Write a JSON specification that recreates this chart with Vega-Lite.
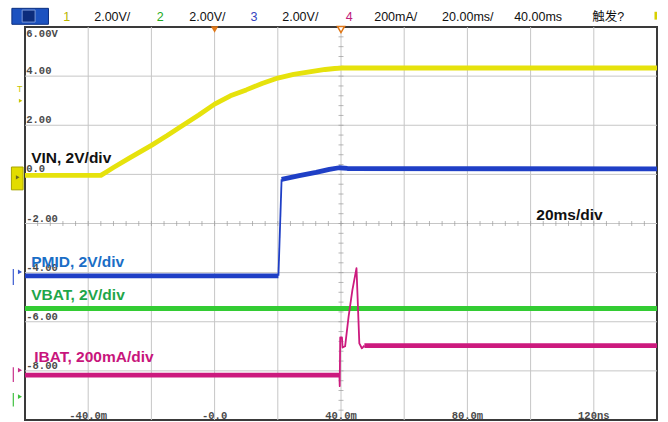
{
 "$schema": "https://vega.github.io/schema/vega-lite/v6.json",
 "width": 632,
 "height": 393,
 "autosize": {"type": "none"},
 "padding": {"left": 25, "top": 27, "right": 11, "bottom": 2},
 "background": "#ffffff",
 "config": {"view": {"stroke": "#3a3a3a", "strokeWidth": 2, "fill": "#ffffff"}},
 "resolve": {"scale": {"color": "independent", "strokeWidth": "independent"}},
 "datasets": {
  "gridx": [{"t": -40}, {"t": -20}, {"t": 0}, {"t": 20}, {"t": 40}, {"t": 60}, {"t": 80}, {"t": 100}, {"t": 120}],
  "gridy": [{"v": -8}, {"v": -6}, {"v": -4}, {"v": -2}, {"v": 0}, {"v": 2}, {"v": 4}],
  "tickh": [{"t": -56}, {"t": -52}, {"t": -48}, {"t": -44}, {"t": -40}, {"t": -36}, {"t": -32}, {"t": -28}, {"t": -24}, {"t": -20}, {"t": -16}, {"t": -12}, {"t": -8}, {"t": -4}, {"t": 0}, {"t": 4}, {"t": 8}, {"t": 12}, {"t": 16}, {"t": 20}, {"t": 24}, {"t": 28}, {"t": 32}, {"t": 36}, {"t": 40}, {"t": 44}, {"t": 48}, {"t": 52}, {"t": 56}, {"t": 60}, {"t": 64}, {"t": 68}, {"t": 72}, {"t": 76}, {"t": 80}, {"t": 84}, {"t": 88}, {"t": 92}, {"t": 96}, {"t": 100}, {"t": 104}, {"t": 108}, {"t": 112}, {"t": 116}, {"t": 120}, {"t": 124}, {"t": 128}, {"t": 132}, {"t": 136}],
  "tickv": [{"v": -9.6}, {"v": -9.2}, {"v": -8.8}, {"v": -8.4}, {"v": -8.0}, {"v": -7.6}, {"v": -7.2}, {"v": -6.8}, {"v": -6.4}, {"v": -6.0}, {"v": -5.6}, {"v": -5.2}, {"v": -4.8}, {"v": -4.4}, {"v": -4.0}, {"v": -3.6}, {"v": -3.2}, {"v": -2.8}, {"v": -2.4}, {"v": -2.0}, {"v": -1.6}, {"v": -1.2}, {"v": -0.8}, {"v": -0.4}, {"v": 0}, {"v": 0.4}, {"v": 0.8}, {"v": 1.2}, {"v": 1.6}, {"v": 2.0}, {"v": 2.4}, {"v": 2.8}, {"v": 3.2}, {"v": 3.6}, {"v": 4.0}, {"v": 4.4}, {"v": 4.8}, {"v": 5.2}, {"v": 5.6}],
  "traces": [
   {"ch": "VBAT", "seg": "VBAT", "kind": "level", "t": -60, "v": -5.46},
   {"ch": "VBAT", "seg": "VBAT", "kind": "level", "t": 140, "v": -5.46},
   {"ch": "VIN", "seg": "VIN", "kind": "level", "t": -60, "v": -0.04},
   {"ch": "VIN", "seg": "VIN", "kind": "level", "t": -36, "v": -0.04},
   {"ch": "VIN", "seg": "VIN", "kind": "level", "t": -34, "v": 0.12},
   {"ch": "VIN", "seg": "VIN", "kind": "level", "t": -32, "v": 0.28},
   {"ch": "VIN", "seg": "VIN", "kind": "level", "t": -27, "v": 0.66},
   {"ch": "VIN", "seg": "VIN", "kind": "level", "t": -20, "v": 1.18},
   {"ch": "VIN", "seg": "VIN", "kind": "level", "t": -15, "v": 1.58},
   {"ch": "VIN", "seg": "VIN", "kind": "level", "t": -11, "v": 1.92},
   {"ch": "VIN", "seg": "VIN", "kind": "level", "t": -5, "v": 2.42},
   {"ch": "VIN", "seg": "VIN", "kind": "level", "t": 0, "v": 2.86},
   {"ch": "VIN", "seg": "VIN", "kind": "level", "t": 5, "v": 3.2},
   {"ch": "VIN", "seg": "VIN", "kind": "level", "t": 10, "v": 3.44},
   {"ch": "VIN", "seg": "VIN", "kind": "level", "t": 15, "v": 3.7},
   {"ch": "VIN", "seg": "VIN", "kind": "level", "t": 20, "v": 3.92},
   {"ch": "VIN", "seg": "VIN", "kind": "level", "t": 25, "v": 4.07},
   {"ch": "VIN", "seg": "VIN", "kind": "level", "t": 31, "v": 4.19},
   {"ch": "VIN", "seg": "VIN", "kind": "level", "t": 35, "v": 4.27},
   {"ch": "VIN", "seg": "VIN", "kind": "level", "t": 38, "v": 4.31},
   {"ch": "VIN", "seg": "VIN", "kind": "level", "t": 40, "v": 4.33},
   {"ch": "VIN", "seg": "VIN", "kind": "level", "t": 140, "v": 4.33},
   {"ch": "PMID", "seg": "PMID_a", "kind": "level", "t": -60, "v": -4.13},
   {"ch": "PMID", "seg": "PMID_a", "kind": "level", "t": 20.2, "v": -4.13},
   {"ch": "PMID", "seg": "PMID_b", "kind": "edge", "t": 20.2, "v": -4.13},
   {"ch": "PMID", "seg": "PMID_b", "kind": "edge", "t": 21.2, "v": -0.2},
   {"ch": "PMID", "seg": "PMID_c", "kind": "level", "t": 21.2, "v": -0.2},
   {"ch": "PMID", "seg": "PMID_c", "kind": "level", "t": 26.8, "v": -0.05},
   {"ch": "PMID", "seg": "PMID_c", "kind": "level", "t": 32.1, "v": 0.08},
   {"ch": "PMID", "seg": "PMID_c", "kind": "level", "t": 36.3, "v": 0.2},
   {"ch": "PMID", "seg": "PMID_c", "kind": "level", "t": 39.4, "v": 0.27},
   {"ch": "PMID", "seg": "PMID_c", "kind": "level", "t": 42, "v": 0.24},
   {"ch": "PMID", "seg": "PMID_c", "kind": "level", "t": 140, "v": 0.22},
   {"ch": "IBAT", "seg": "IBAT_a", "kind": "level", "t": -60, "v": -8.17},
   {"ch": "IBAT", "seg": "IBAT_a", "kind": "level", "t": 39.5, "v": -8.17},
   {"ch": "IBAT", "seg": "IBAT_b", "kind": "edge", "t": 39.5, "v": -8.17},
   {"ch": "IBAT", "seg": "IBAT_b", "kind": "edge", "t": 39.6, "v": -8.62},
   {"ch": "IBAT", "seg": "IBAT_b", "kind": "edge", "t": 39.75, "v": -6.64},
   {"ch": "IBAT", "seg": "IBAT_b", "kind": "edge", "t": 40.3, "v": -6.64},
   {"ch": "IBAT", "seg": "IBAT_b", "kind": "edge", "t": 40.5, "v": -7.05},
   {"ch": "IBAT", "seg": "IBAT_b", "kind": "edge", "t": 41.3, "v": -7.0},
   {"ch": "IBAT", "seg": "IBAT_b", "kind": "edge", "t": 42.4, "v": -5.79},
   {"ch": "IBAT", "seg": "IBAT_b", "kind": "edge", "t": 43.6, "v": -4.71},
   {"ch": "IBAT", "seg": "IBAT_b", "kind": "edge", "t": 44.9, "v": -3.82},
   {"ch": "IBAT", "seg": "IBAT_b", "kind": "edge", "t": 45.8, "v": -6.88},
   {"ch": "IBAT", "seg": "IBAT_b", "kind": "edge", "t": 46.6, "v": -7.08},
   {"ch": "IBAT", "seg": "IBAT_b", "kind": "edge", "t": 47.4, "v": -6.97},
   {"ch": "IBAT", "seg": "IBAT_c", "kind": "level", "t": 47.4, "v": -6.97},
   {"ch": "IBAT", "seg": "IBAT_c", "kind": "level", "t": 140, "v": -6.97}
  ],
  "labels": [
   {"t": -58.05, "v": 0.46, "text": "VIN, 2V/div", "ch": "VIN"},
   {"t": -58.05, "v": -3.77, "text": "PMID, 2V/div", "ch": "PMID"},
   {"t": -58.05, "v": -5.11, "text": "VBAT, 2V/div", "ch": "VBAT"},
   {"t": -57.1, "v": -7.64, "text": "IBAT, 200mA/div", "ch": "IBAT"},
   {"t": 101.8, "v": -1.86, "text": "20ms/div", "ch": "time"}
  ],
  "ylabels": [
   {"t": -59.6, "v": 5.5, "text": "6.00V"},
   {"t": -59.6, "v": 4, "text": "4.00"},
   {"t": -59.6, "v": 2, "text": "2.00"},
   {"t": -59.6, "v": 0, "text": "0.0"},
   {"t": -59.6, "v": -2, "text": "-2.00"},
   {"t": -59.6, "v": -4, "text": "-4.00"},
   {"t": -59.6, "v": -6, "text": "-6.00"},
   {"t": -59.6, "v": -8, "text": "-8.00"}
  ],
  "xlabels": [
   {"t": -40, "text": "-40.0m"},
   {"t": 0, "text": "-0.0"},
   {"t": 40, "text": "40.0m"},
   {"t": 80, "text": "80.0m"},
   {"t": 120, "text": "120ns"}
  ],
  "header": [
   {"t": -47.9, "text": "1", "ch": "VIN"},
   {"t": -38.1, "text": "2.00V/", "ch": "info"},
   {"t": -18.3, "text": "2", "ch": "VBAT"},
   {"t": -8.0, "text": "2.00V/", "ch": "info"},
   {"t": 11.4, "text": "3", "ch": "PMID"},
   {"t": 21.4, "text": "2.00V/", "ch": "info"},
   {"t": 41.5, "text": "4", "ch": "IBAT"},
   {"t": 50.5, "text": "200mA/", "ch": "info"},
   {"t": 72.0, "text": "20.00ms/", "ch": "info"},
   {"t": 94.8, "text": "40.00ms", "ch": "info"},
   {"t": 119.5, "text": "触发?", "ch": "info"}
  ],
  "button": [
   {"part": "outer", "t": -64.15, "t2": -52.57, "v": 6.76, "v2": 6.11},
   {"part": "inner", "t": -60.9, "t2": -56.8, "v": 6.69, "v2": 6.2}
  ],
  "gmarks": [
   {"ch": "PMID", "v": -3.97, "vtop": -3.85, "vbot": -4.5},
   {"ch": "IBAT", "v": -7.97, "vtop": -7.85, "vbot": -8.45},
   {"ch": "VBAT", "v": -9.05, "vtop": -8.9, "vbot": -9.45}
  ]
 },
 "layer": [
  {
   "data": {"name": "gridx"},
   "mark": {"type": "rule", "color": "#c6c6c6", "strokeWidth": 1},
   "encoding": {"x": {"field": "t", "type": "quantitative", "scale": {"domain": [-60, 140], "nice": false, "zero": false}, "axis": null}}
  },
  {
   "data": {"name": "gridy"},
   "mark": {"type": "rule", "color": "#c6c6c6", "strokeWidth": 1},
   "encoding": {"y": {"field": "v", "type": "quantitative", "scale": {"domain": [-10, 6], "nice": false, "zero": false}, "axis": null}}
  },
  {
   "data": {"name": "tickh"},
   "mark": {"type": "tick", "orient": "vertical", "size": 5, "thickness": 1, "color": "#9a9a9a"},
   "encoding": {
    "x": {"field": "t", "type": "quantitative", "scale": {"domain": [-60, 140], "nice": false, "zero": false}, "axis": null},
    "y": {"datum": -2, "type": "quantitative", "scale": {"domain": [-10, 6], "nice": false, "zero": false}, "axis": null}
   }
  },
  {
   "data": {"name": "tickv"},
   "mark": {"type": "tick", "orient": "horizontal", "size": 5, "thickness": 1, "color": "#9a9a9a"},
   "encoding": {
    "x": {"datum": 40, "type": "quantitative", "scale": {"domain": [-60, 140], "nice": false, "zero": false}, "axis": null},
    "y": {"field": "v", "type": "quantitative", "scale": {"domain": [-10, 6], "nice": false, "zero": false}, "axis": null}
   }
  },
  {
   "data": {"name": "ylabels"},
   "mark": {"type": "text", "align": "left", "baseline": "alphabetic", "dy": -2, "font": "Liberation Mono", "fontSize": 10.5, "fontWeight": "bold", "color": "#4a4a4a"},
   "encoding": {
    "x": {"field": "t", "type": "quantitative", "scale": {"domain": [-60, 140], "nice": false, "zero": false}, "axis": null},
    "y": {"field": "v", "type": "quantitative", "scale": {"domain": [-10, 6], "nice": false, "zero": false}, "axis": null},
    "text": {"field": "text"}
   }
  },
  {
   "data": {"name": "xlabels"},
   "mark": {"type": "text", "align": "center", "baseline": "alphabetic", "dy": -1, "font": "Liberation Mono", "fontSize": 10.5, "fontWeight": "bold", "color": "#4a4a4a"},
   "encoding": {
    "x": {"field": "t", "type": "quantitative", "scale": {"domain": [-60, 140], "nice": false, "zero": false}, "axis": null},
    "y": {"datum": -10, "type": "quantitative", "scale": {"domain": [-10, 6], "nice": false, "zero": false}, "axis": null},
    "text": {"field": "text"}
   }
  },
  {
   "data": {"name": "traces"},
   "mark": {"type": "line", "strokeCap": "butt", "strokeJoin": "round", "clip": true},
   "encoding": {
    "x": {"field": "t", "type": "quantitative", "scale": {"domain": [-60, 140], "nice": false, "zero": false}, "axis": null},
    "y": {"field": "v", "type": "quantitative", "scale": {"domain": [-10, 6], "nice": false, "zero": false}, "axis": null},
    "detail": {"field": "seg"},
    "color": {"field": "ch", "type": "nominal", "scale": {"domain": ["VIN", "PMID", "VBAT", "IBAT"], "range": ["#e6e20c", "#1f3fc6", "#33cc33", "#cc1a7e"]}, "legend": null},
    "strokeWidth": {"field": "kind", "type": "nominal", "scale": {"domain": ["level", "edge"], "range": [4.8, 1.8]}, "legend": null}
   }
  },
  {
   "data": {"name": "labels"},
   "mark": {"type": "text", "align": "left", "baseline": "alphabetic", "font": "Liberation Sans", "fontSize": 15.5, "fontWeight": "bold"},
   "encoding": {
    "x": {"field": "t", "type": "quantitative", "scale": {"domain": [-60, 140], "nice": false, "zero": false}, "axis": null},
    "y": {"field": "v", "type": "quantitative", "scale": {"domain": [-10, 6], "nice": false, "zero": false}, "axis": null},
    "text": {"field": "text"},
    "color": {"field": "ch", "type": "nominal", "scale": {"domain": ["VIN", "PMID", "VBAT", "IBAT", "time"], "range": ["#111111", "#1a6ec6", "#1fa64a", "#c8157c", "#111111"]}, "legend": null}
   }
  },
  {
   "data": {"name": "header"},
   "mark": {"type": "text", "align": "left", "baseline": "alphabetic", "font": "Liberation Sans, Noto Sans CJK SC", "fontSize": 12.5},
   "encoding": {
    "x": {"field": "t", "type": "quantitative", "scale": {"domain": [-60, 140], "nice": false, "zero": false}, "axis": null},
    "y": {"datum": 6.25, "type": "quantitative", "scale": {"domain": [-10, 6], "nice": false, "zero": false}, "axis": null},
    "text": {"field": "text"},
    "color": {"field": "ch", "type": "nominal", "scale": {"domain": ["VIN", "VBAT", "PMID", "IBAT", "info"], "range": ["#b8b400", "#22aa22", "#3444c0", "#c0207a", "#111111"]}, "legend": null}
   }
  },
  {
   "data": {"name": "button"},
   "mark": {"type": "rect", "strokeWidth": 1},
   "encoding": {
    "x": {"field": "t", "type": "quantitative", "scale": {"domain": [-60, 140], "nice": false, "zero": false}, "axis": null},
    "x2": {"field": "t2"},
    "y": {"field": "v", "type": "quantitative", "scale": {"domain": [-10, 6], "nice": false, "zero": false}, "axis": null},
    "y2": {"field": "v2"},
    "color": {"field": "part", "type": "nominal", "scale": {"domain": ["outer", "inner"], "range": ["#1c52c0", "#0c2c7c"]}, "legend": null},
    "stroke": {"field": "part", "type": "nominal", "scale": {"domain": ["outer", "inner"], "range": ["#0b2f80", "#7a98d8"]}, "legend": null}
   }
  },
  {
   "data": {"values": [{"t": 0, "v": 5.9}]},
   "mark": {"type": "point", "shape": "triangle-down", "filled": true, "size": 55, "color": "#e07818", "opacity": 1},
   "encoding": {
    "x": {"field": "t", "type": "quantitative", "scale": {"domain": [-60, 140], "nice": false, "zero": false}, "axis": null},
    "y": {"field": "v", "type": "quantitative", "scale": {"domain": [-10, 6], "nice": false, "zero": false}, "axis": null}
   }
  },
  {
   "data": {"values": [{"t": 40, "v": 5.9}]},
   "mark": {"type": "point", "shape": "triangle-down", "filled": false, "size": 50, "stroke": "#e07818", "fill": "#ffffff", "strokeWidth": 1.5, "opacity": 1},
   "encoding": {
    "x": {"field": "t", "type": "quantitative", "scale": {"domain": [-60, 140], "nice": false, "zero": false}, "axis": null},
    "y": {"field": "v", "type": "quantitative", "scale": {"domain": [-10, 6], "nice": false, "zero": false}, "axis": null}
   }
  },
  {
   "data": {"values": [{"t": 139.6, "v": 6.62, "v2": 6.3}]},
   "mark": {"type": "rule", "color": "#d8d000", "strokeWidth": 2.5},
   "encoding": {
    "x": {"field": "t", "type": "quantitative", "scale": {"domain": [-60, 140], "nice": false, "zero": false}, "axis": null},
    "y": {"field": "v", "type": "quantitative", "scale": {"domain": [-10, 6], "nice": false, "zero": false}, "axis": null},
    "y2": {"field": "v2"}
   }
  },
  {
   "data": {"values": [{"t": -64.3, "t2": -60.6, "v": 0.3, "v2": -0.63}]},
   "mark": {"type": "rect", "color": "#e2dc00", "stroke": "#a8a400", "strokeWidth": 1},
   "encoding": {
    "x": {"field": "t", "type": "quantitative", "scale": {"domain": [-60, 140], "nice": false, "zero": false}, "axis": null},
    "x2": {"field": "t2"},
    "y": {"field": "v", "type": "quantitative", "scale": {"domain": [-10, 6], "nice": false, "zero": false}, "axis": null},
    "y2": {"field": "v2"}
   }
  },
  {
   "data": {"values": [{"t": -62.3, "v": -0.12}]},
   "mark": {"type": "point", "shape": "triangle-right", "filled": true, "size": 18, "color": "#6a6a20", "opacity": 1},
   "encoding": {
    "x": {"field": "t", "type": "quantitative", "scale": {"domain": [-60, 140], "nice": false, "zero": false}, "axis": null},
    "y": {"field": "v", "type": "quantitative", "scale": {"domain": [-10, 6], "nice": false, "zero": false}, "axis": null}
   }
  },
  {
   "data": {"values": [{"t": -61.7, "v": 3.35, "text": "T"}]},
   "mark": {"type": "text", "align": "center", "baseline": "alphabetic", "font": "Liberation Sans", "fontSize": 9, "color": "#c8c400"},
   "encoding": {
    "x": {"field": "t", "type": "quantitative", "scale": {"domain": [-60, 140], "nice": false, "zero": false}, "axis": null},
    "y": {"field": "v", "type": "quantitative", "scale": {"domain": [-10, 6], "nice": false, "zero": false}, "axis": null},
    "text": {"field": "text"}
   }
  },
  {
   "data": {"values": [{"t": -61.4, "v": 3.0}]},
   "mark": {"type": "point", "shape": "triangle-right", "filled": true, "size": 16, "color": "#c8c400", "opacity": 1},
   "encoding": {
    "x": {"field": "t", "type": "quantitative", "scale": {"domain": [-60, 140], "nice": false, "zero": false}, "axis": null},
    "y": {"field": "v", "type": "quantitative", "scale": {"domain": [-10, 6], "nice": false, "zero": false}, "axis": null}
   }
  },
  {
   "data": {"name": "gmarks"},
   "mark": {"type": "rule", "strokeWidth": 1.2},
   "encoding": {
    "x": {"datum": -63.7, "type": "quantitative", "scale": {"domain": [-60, 140], "nice": false, "zero": false}, "axis": null},
    "y": {"field": "vtop", "type": "quantitative", "scale": {"domain": [-10, 6], "nice": false, "zero": false}, "axis": null},
    "y2": {"field": "vbot"},
    "color": {"field": "ch", "type": "nominal", "scale": {"domain": ["PMID", "IBAT", "VBAT"], "range": ["#3a5ad0", "#c8308a", "#40c040"]}, "legend": null}
   }
  },
  {
   "data": {"name": "gmarks"},
   "mark": {"type": "point", "shape": "triangle-right", "filled": true, "size": 22, "opacity": 1},
   "encoding": {
    "x": {"datum": -61.6, "type": "quantitative", "scale": {"domain": [-60, 140], "nice": false, "zero": false}, "axis": null},
    "y": {"field": "v", "type": "quantitative", "scale": {"domain": [-10, 6], "nice": false, "zero": false}, "axis": null},
    "color": {"field": "ch", "type": "nominal", "scale": {"domain": ["PMID", "IBAT", "VBAT"], "range": ["#3a5ad0", "#c8308a", "#40c040"]}, "legend": null}
   }
  }
 ]
}
